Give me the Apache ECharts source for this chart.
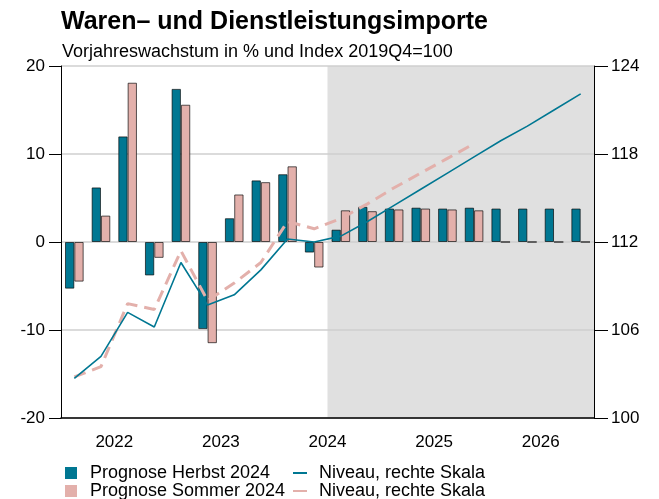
<!DOCTYPE html>
<html>
<head>
<meta charset="utf-8">
<script src="https://cdn.jsdelivr.net/npm/echarts@6/dist/echarts.min.js"></script>
<style>
  html, body { margin: 0; padding: 0; background: #fff; }
  #chart { width: 659px; height: 499px; }
</style>
</head>
<body>
<div id="chart"></div>
<script>
// Quartale 2022Q1 bis 2026Q4
const years = ['2022', '2023', '2024', '2025', '2026'];
const quarters = [
  '2022Q1', '2022Q2', '2022Q3', '2022Q4',
  '2023Q1', '2023Q2', '2023Q3', '2023Q4',
  '2024Q1', '2024Q2', '2024Q3', '2024Q4',
  '2025Q1', '2025Q2', '2025Q3', '2025Q4',
  '2026Q1', '2026Q2', '2026Q3', '2026Q4'
];
const forecastStart = '2024Q3';

// Vorjahreswachstum in %
const herbstGrowth = [-5.3, 6.2, 12.0, -3.8, 17.4, -9.9, 2.7, 7.0, 7.7, -1.2,
  1.4, 4.0, 3.8, 3.9, 3.8, 3.9, 3.8, 3.8, 3.8, 3.8];
const sommerGrowth = [-4.5, 3.0, 18.1, -1.8, 15.6, -11.5, 5.4, 6.8, 8.6, -2.9,
  3.6, 3.5, 3.7, 3.8, 3.7, 3.6, 0, 0, 0, 0];

// Niveau, Index 2019Q4=100
const herbstLevel = [102.7, 104.2, 107.2, 106.2, 110.6, 107.7, 108.4, 110.1, 112.2, 112.0,
  112.4, 113.4, 114.5, 115.6, 116.7, 117.8, 118.9, 119.9, 121.0, 122.1];
const sommerLevel = [102.8, 103.5, 107.8, 107.4, 111.4, 108.0, 109.2, 110.6, 113.4, 112.9,
  113.6, 114.6, 115.7, 116.7, 117.7, 118.7, null, null, null, null];

const leftTicks = { min: -20, max: 20, interval: 10 };
const rightTicks = { min: 100, max: 124, interval: 6 };

const teal = '#007792';
const pink = '#e3b0ab';
const font = 'Liberation Sans';

var chart = echarts.init(document.getElementById('chart'));

const option = {
  animation: false,
  textStyle: { fontFamily: font },
  title: [
    {
      text: 'Waren\u2013 und Dienstleistungsimporte',
      left: 56, top: 5,
      textStyle: { fontSize: 25, fontWeight: 'bold', color: '#000', fontFamily: font }
    },
    {
      text: 'Vorjahreswachstum in % und Index 2019Q4=100',
      left: 57, top: 38,
      textStyle: { fontSize: 18, fontWeight: 'normal', color: '#000', fontFamily: font }
    }
  ],
  legend: [
    {
      left: 65, top: 464, height: 60, orient: 'vertical', itemGap: 0, padding: 0,
      icon: 'rect', itemWidth: 12, itemHeight: 12,
      itemStyle: { borderWidth: 0 },
      data: ['Prognose Herbst 2024', 'Prognose Sommer 2024'],
      textStyle: { fontSize: 18, color: '#000', lineHeight: 17, padding: [0, 0, 0, 8], fontFamily: font }
    },
    {
      left: 293, top: 464, height: 60, orient: 'vertical', itemGap: 0, padding: 0,
      icon: 'rect', itemWidth: 14, itemHeight: 2,
      itemStyle: { borderWidth: 0 },
      lineStyle: { type: 'solid', width: 2 },
      data: [
        { name: 'Niveau, rechte Skala', lineStyle: { type: 'solid', width: 2 } },
        { name: 'Niveau, rechte Skala ', lineStyle: { type: 'solid', width: 2 } }
      ],
      formatter: function (name) { return name.trim(); },
      textStyle: { fontSize: 18, color: '#000', lineHeight: 17, padding: [0, 0, 0, 7], fontFamily: font }
    }
  ],
  grid: { left: 61, right: 65, top: 66, bottom: 81 },
  xAxis: [
    {
      type: 'category',
      data: quarters,
      position: 'bottom',
      axisLine: { show: false },
      axisTick: { length: 6, lineStyle: { color: '#000' } },
      axisLabel: { show: false }
    },
    {
      type: 'category',
      data: years,
      position: 'bottom',
      axisLine: { lineStyle: { color: '#000', width: 1.5 } },
      axisTick: { length: 13, lineStyle: { color: '#000' } },
      axisLabel: { color: '#000', fontSize: 17, margin: 16 }
    },
    {
      type: 'value', min: 0, max: quarters.length, show: false
    }
  ],
  yAxis: [
    {
      type: 'value',
      min: leftTicks.min, max: leftTicks.max, interval: leftTicks.interval,
      axisLine: { show: true, lineStyle: { color: '#000' } },
      axisTick: { show: true, length: 12, lineStyle: { color: '#000' } },
      axisLabel: { color: '#000', fontSize: 17, margin: 16 },
      splitLine: { lineStyle: { color: '#cfcfcf', width: 1.5 } }
    },
    {
      type: 'value',
      min: rightTicks.min, max: rightTicks.max, interval: rightTicks.interval,
      position: 'right',
      axisLine: { show: true, lineStyle: { color: '#000' } },
      axisTick: { show: true, length: 14, lineStyle: { color: '#000' } },
      axisLabel: { color: '#000', fontSize: 17, margin: 17 },
      splitLine: { show: false }
    }
  ],
  series: [
    {
      name: 'forecast',
      type: 'line',
      xAxisIndex: 2, yAxisIndex: 0,
      data: [],
      silent: true,
      z: -1,
      markArea: {
        silent: true,
        z: -1,
        itemStyle: { color: '#e0e0e0' },
        data: [[{ xAxis: quarters.indexOf(forecastStart) }, { xAxis: quarters.length }]]
      }
    },
    {
      name: 'Prognose Herbst 2024',
      type: 'bar',
      data: herbstGrowth,
      color: teal,
      barGap: '0%', barCategoryGap: '30%',
      itemStyle: { color: teal, borderColor: 'rgba(0,0,0,0.65)', borderWidth: 1 }
    },
    {
      name: 'Prognose Sommer 2024',
      type: 'bar',
      data: sommerGrowth,
      color: pink,
      barGap: '0%', barCategoryGap: '30%',
      itemStyle: { color: pink, borderColor: 'rgba(0,0,0,0.65)', borderWidth: 1 }
    },
    {
      name: 'Niveau, rechte Skala',
      type: 'line',
      yAxisIndex: 1,
      data: herbstLevel,
      color: teal,
      symbol: 'none',
      lineStyle: { color: teal, width: 1.6 },
      z: 4
    },
    {
      name: 'Niveau, rechte Skala ',
      type: 'line',
      yAxisIndex: 1,
      data: sommerLevel,
      color: pink,
      symbol: 'none',
      lineStyle: { color: pink, width: 3, type: [12, 7] },
      z: 3
    }
  ]
};

chart.setOption(option);
</script>
</body>
</html>
